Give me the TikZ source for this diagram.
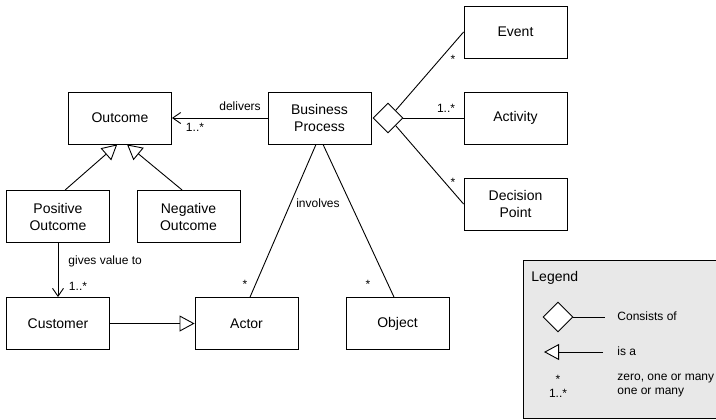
\documentclass[tikz,border=0pt]{standalone}
\usepackage{fontspec}
\setmainfont{Liberation Sans}
\usetikzlibrary{arrows.meta,shapes.geometric}
\definecolor{legendgray}{RGB}{232,232,232}

\begin{document}
\begin{tikzpicture}[scale=0.3528, line width=0.9bp]
\tikzstyle{every node}+=[inner sep=0pt]
\tikzstyle{cls}=[draw, black, fill=white, minimum width=103bp, minimum height=52bp, align=center, font=\fontsize{14bp}{17bp}\selectfont]
\tikzstyle{lbl}=[font=\fontsize{12bp}{14bp}\selectfont]
\tikzstyle{whole}=[draw, black, fill=white, diamond, minimum width=30bp, minimum height=30bp]
\tikzstyle{isa}=[-{Triangle[length=15bp, width=16bp, fill=white]}]
\tikzstyle{nav}=[-{Straight Barb[length=8bp, width=11bp]}]
\useasboundingbox (0,0) rectangle (71.6,-42);
% legend
\draw [black, fill=legendgray] (52.3,-26) rectangle (72.5,-41.8);
\node [anchor=west, font=\fontsize{14bp}{17bp}\selectfont] (legtitle) at (53.1,-27.8) {Legend};
\node [whole] (legdia) at (55.8,-31.7) {};
\coordinate (legdiaend) at (60.5,-31.7);
\draw [black] (legdia.east) -- (legdiaend);
\node [lbl, anchor=west] (legconsists) at (61.7,-31.6) {Consists of};
\coordinate (legisafrom) at (60.3,-35.2);
\coordinate (legisato) at (54.4,-35.2);
\draw [black, isa] (legisafrom) -- (legisato);
\node [lbl, anchor=west] (legisa) at (61.7,-35.1) {is a};
\node [lbl] (legstar) at (55.8,-37.9) {*};
\node [lbl, anchor=west] (legzero) at (61.7,-37.9) {zero, one or many};
\node [lbl] (legone) at (55.8,-39.3) {1..*};
\node [lbl, anchor=west] (legmany) at (61.7,-39.3) {one or many};
% classes
\node [cls] (outcome) at (12,-11.8) {Outcome};
\node [cls] (posout) at (5.8,-21.65) {Positive\\Outcome};
\node [cls] (negout) at (18.85,-21.65) {Negative\\Outcome};
\node [cls] (customer) at (5.8,-32.35) {Customer};
\node [cls] (actor) at (24.65,-32.35) {Actor};
\node [cls] (object) at (39.75,-32.35) {Object};
\node [cls] (bizproc) at (31.95,-11.8) {Business\\Process};
\node [whole] (consists) at (38.8,-11.8) {};
\node [cls] (event) at (51.55,-3.2) {Event};
\node [cls] (activity) at (51.55,-11.8) {Activity};
\node [cls] (decision) at (51.55,-20.4) {Decision\\Point};
% is a
\draw [black, isa] ([xshift=20bp]posout.north) -- ([xshift=-8bp]outcome.south);
\draw [black, isa] ([xshift=-18bp]negout.north) -- ([xshift=20bp]outcome.south);
\draw [black, isa] (customer.east) -- (actor.west);
% associations
\draw [black, nav] (bizproc.west) -- (outcome.east);
\draw (24,-10.6) node [lbl] {delivers};
\draw (19.5,-12.7) node [lbl] {1..*};
\draw [black, nav] (posout.south) -- (customer.north);
\draw (6.8,-26.1) node [lbl, anchor=west] {gives value to};
\draw (7.8,-28.6) node [lbl] {1..*};
\draw [black] ([xshift=-10bp]bizproc.south) -- ([xshift=10bp]actor.north);
\draw [black] ([xshift=10bp]bizproc.south) -- ([xshift=-10bp]object.north);
\draw (31.8,-20.3) node [lbl] {involves};
\draw (24.5,-28.4) node [lbl] {*};
\draw (36.8,-28.4) node [lbl] {*};
% consists of
\draw [black] (consists.north east) -- (event.west);
\draw [black] (consists.east) -- (activity.west);
\draw [black] (consists.south east) -- (decision.west);
\draw (45.3,-5.9) node [lbl] {*};
\draw (44.6,-10.8) node [lbl] {1..*};
\draw (45.3,-18.2) node [lbl] {*};
\end{tikzpicture}
\end{document}
